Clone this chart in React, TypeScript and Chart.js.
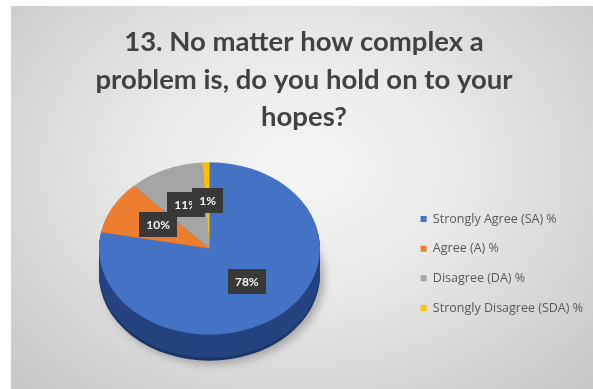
import { useEffect, useRef } from "react";
import { Chart, registerables } from "chart.js";

Chart.register(...registerables);

// ---- data ----
const titleLines = ["13. No matter how complex a", "problem is, do you hold on to your", "hopes?"];
const categories = ["Strongly Agree (SA) %", "Agree (A) %", "Disagree (DA) %", "Strongly Disagree (SDA) %"];
const percentages = [78, 10, 11, 1];

// ---- styles ----
const topColors = ["#4472C4", "#ED7D31", "#A5A5A5", "#FFC000"];
const sideColors = ["#24437F", "#A9551D", "#6E6E6E", "#B38700"];
const TILT = 0.78;
const DEPTH = 26;
const LABEL_R = 0.53;
const PIE_RADIUS = 110.5;
const PIE_INSET_X = 84;
const PIE_SHIFT_Y = -15;

function geom(chart: any) {
  const meta = chart.getDatasetMeta(0);
  const first = meta.data[0];
  const p = first.getProps(["x", "y", "outerRadius"], true);
  const tx = chart.chartArea.left + PIE_INSET_X + p.outerRadius - p.x;
  return { meta, x: p.x, y: p.y, r: p.outerRadius, tx, ty: PIE_SHIFT_Y };
}

const pie3d = {
  id: "pie3d",
  beforeDatasetsDraw(chart: any) {
    const ctx = chart.ctx;
    const { meta, x, y, tx, ty } = geom(chart);
    ctx.save();
    ctx.translate(x + tx, y + ty);
    ctx.scale(1, TILT);
    ctx.translate(-x, -y);
    for (let d = DEPTH; d >= 1; d--) {
      meta.data.forEach((arc: any, i: number) => {
        const p = arc.getProps(["startAngle", "endAngle", "outerRadius"], true);
        ctx.save();
        if (d === DEPTH) {
          ctx.shadowColor = "rgba(0,0,0,0.28)";
          ctx.shadowBlur = 9;
          ctx.shadowOffsetX = 4;
          ctx.shadowOffsetY = 3;
        }
        const oy = y + d / TILT;
        ctx.beginPath();
        ctx.moveTo(x, oy);
        ctx.arc(x, oy, p.outerRadius, p.startAngle, p.endAngle);
        ctx.closePath();
        ctx.fillStyle = i === 0 && d > DEPTH - 3 ? "#1B3566" : sideColors[i];
        ctx.fill();
        ctx.restore();
      });
    }
  },
  afterDatasetsDraw(chart: any) {
    const ctx = chart.ctx;
    ctx.restore();
    const { meta, x, y, tx, ty } = geom(chart);
    ctx.save();
    ctx.font = "bold 12px Lato";
    ctx.textAlign = "center";
    ctx.textBaseline = "middle";
    meta.data.forEach((arc: any, i: number) => {
      const p = arc.getProps(["startAngle", "endAngle", "outerRadius"], true);
      const mid = (p.startAngle + p.endAngle) / 2;
      const lx = x + tx + Math.cos(mid) * p.outerRadius * LABEL_R;
      const ly = y + ty + Math.sin(mid) * p.outerRadius * LABEL_R * TILT - 2;
      const text = `${percentages[i]}%`;
      const w = ctx.measureText(text).width + 14;
      const h = 25;
      ctx.fillStyle = "#383838";
      ctx.fillRect(Math.round(lx - w / 2), Math.round(ly - h / 2), Math.round(w), h);
      ctx.fillStyle = "#f4f4f4";
      ctx.fillText(text, lx, ly + 0.5);
    });
    ctx.restore();
  },
};

export default function App() {
  const ref = useRef<HTMLCanvasElement | null>(null);
  useEffect(() => {
    if (!ref.current) return;
    const chart = new Chart(ref.current, {
      type: "pie",
      data: {
        labels: categories,
        datasets: [
          {
            data: percentages,
            backgroundColor: topColors,
            borderWidth: 0,
            clip: false,
          } as any,
        ],
      },
      options: {
        responsive: false,
        animation: false,
        radius: PIE_RADIUS,
        layout: { padding: { left: 4, right: 0, top: 0, bottom: 0 } },
        plugins: {
          title: {
            display: true,
            text: titleLines,
            color: "#424242",
            font: { family: "Lato", size: 27.5, weight: "bold", lineHeight: 1.35 },
            padding: { top: 18, bottom: 2.6 },
          },
          legend: {
            position: "right",
            align: "center",
            fullSize: false,
            labels: {
              boxWidth: 6,
              boxHeight: 6,
              padding: 17.2,
              color: "#595959",
              font: { family: "Open Sans", size: 12.5 },
            },
          },
          tooltip: { enabled: false },
        },
      } as any,
      plugins: [pie3d],
    });
    return () => chart.destroy();
  }, []);
  return (
    <div
      style={{
        position: "fixed",
        left: 11,
        top: 6,
        width: 582,
        height: 383,
        background:
          "radial-gradient(ellipse at 50% 42%, #f6f6f6 0%, #e9e9e9 40%, #c6c6c6 100%)",
      }}
    >
      <canvas ref={ref} width={582} height={383} style={{ display: "block" }} />
    </div>
  );
}
